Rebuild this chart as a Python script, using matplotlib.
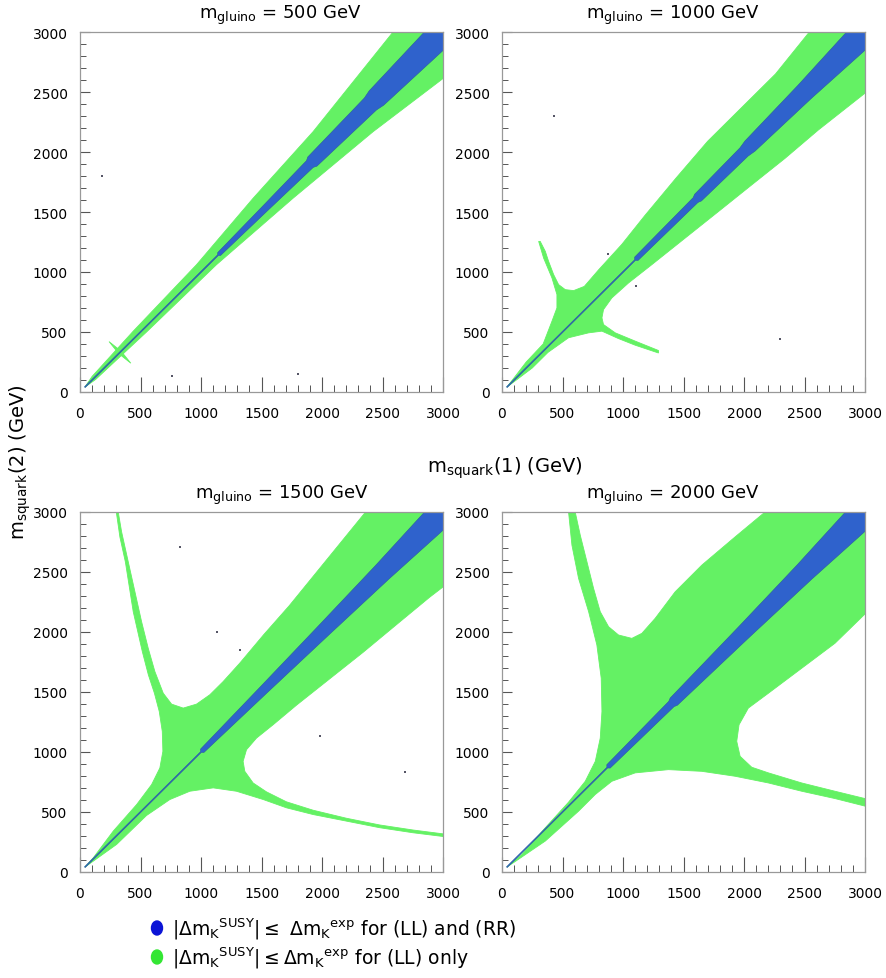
import matplotlib
matplotlib.use("Agg")
import matplotlib.pyplot as plt
from matplotlib.patches import Ellipse, Polygon
from matplotlib.ticker import MultipleLocator
import numpy as np

plt.rcParams['font.family'] = ['DejaVu Sans']
plt.rcParams['mathtext.fontset'] = 'dejavusans'

# ---------------- data ----------------
gluino_masses = [500, 1000, 1500, 2000]
ticks = [0, 500, 1000, 1500, 2000, 2500, 3000]
tick_labels = ["0", "500", "1000", "1500", "2000", "2500", "3000"]

# green region (LL only) boundary, m_squark(1) vs m_squark(2) in GeV
green_500_x = [40, 130, 550, 1128, 1761, 2422, 3000, 3000, 2587, 1926, 1431, 963, 440, 100]
green_500_y = [40, 105, 500, 1061, 1615, 2169, 2612, 3000, 3000, 2169, 1615, 1061, 507, 130]
star_500_x = [240, 320, 420, 340]
star_500_y = [420, 320, 240, 340]

green_1000_x = [40, 250, 380, 550, 716, 826, 963, 1101, 1293, 1293, 1101, 936, 839, 826, 839,
                908, 1046, 1238, 1514, 1789, 2064, 2339, 2614, 3000, 3000, 2540, 2260, 1970,
                1700, 1440, 1180, 990, 800, 680, 592, 523, 468, 427, 385, 358, 316, 303, 344,
                413, 454, 454, 413, 340, 200]
green_1000_y = [40, 200, 330, 452, 493, 507, 445, 390, 325, 346, 424, 493, 562, 618, 687,
                784, 909, 1061, 1283, 1504, 1726, 1947, 2183, 2490, 3000, 3000, 2650, 2360,
                2090, 1785, 1470, 1230, 1020, 880, 845, 853, 895, 978, 1089, 1172, 1255, 1255,
                1116, 950, 812, 701, 590, 400, 250]

green_1500_x = [40, 303, 550, 743, 908, 1101, 1293, 1514, 1706, 1926, 2202, 2477, 2752, 3000,
                3000, 2752, 2477, 2202, 1926, 1706, 1541, 1431, 1362, 1348, 1376, 1459, 1596,
                1789, 2064, 2339, 2614, 2890, 3000, 3000, 2360, 2150, 1940, 1730, 1520, 1320,
                1183, 1073, 963, 853, 757, 688, 619, 564, 509, 454, 399, 344, 316, 300, 330,
                375, 440, 515, 565, 615, 655, 680, 685, 660, 592, 468, 275, 110]
green_1500_y = [40, 230, 471, 604, 673, 701, 673, 604, 535, 479, 424, 369, 327, 296,
                318, 350, 392, 448, 515, 585, 668, 742, 839, 922, 1019, 1116, 1227,
                1390, 1610, 1830, 2060, 2290, 2375, 3000, 3000, 2740, 2480, 2220, 1980, 1740,
                1587, 1477, 1399, 1366, 1399, 1490, 1670, 1864, 2086, 2335, 2584, 2834, 3000, 3000, 2790,
                2584, 2169, 1837, 1643, 1490, 1338, 1172, 1006, 867, 729, 562, 341, 119]

green_2000_x = [40, 358, 633, 771, 908, 1101, 1376, 1651, 1926, 2202, 2477, 2752, 3000,
                3000, 2752, 2477, 2202, 2064, 1968, 1940, 1959, 2036, 2202, 2477, 2752, 3000,
                3000, 2174, 1926, 1651, 1431, 1266, 1156, 1073, 963, 881, 812, 757, 702, 647,
                605, 550, 578, 633, 716, 784, 820, 826, 812, 771, 688, 550, 358, 165]
green_2000_y = [40, 258, 507, 646, 756, 826, 853, 839, 798, 742, 673, 612, 549,
                612, 673, 742, 826, 873, 964, 1089, 1227, 1366, 1490, 1698, 1906, 2150,
                3000, 3000, 2792, 2557, 2335, 2114, 1989, 1947, 1975, 2044, 2169, 2363, 2585, 2806,
                3000, 3000, 2723, 2446, 2169, 1892, 1615, 1338, 1116, 922, 756, 582, 369, 147]

# blue region (LL and RR): position along the diagonal and half width (GeV)
blue_500_t = [40, 1140, 1150, 1550, 1900, 1920, 2400, 2450, 3000, 3100]
blue_500_w = [3, 3, 12, 20, 28, 38, 50, 60, 80, 80]
blue_1000_t = [40, 1100, 1110, 1600, 1620, 2000, 2050, 2500, 3000, 3100]
blue_1000_w = [3, 3, 14, 20, 28, 34, 42, 55, 80, 80]
blue_1500_t = [40, 1000, 1010, 1500, 2000, 2500, 3000, 3100]
blue_1500_w = [3, 3, 14, 26, 40, 56, 80, 80]
blue_2000_t = [40, 870, 880, 1400, 1420, 2000, 2500, 3000, 3100]
blue_2000_w = [3, 3, 14, 22, 30, 44, 60, 85, 85]

# stray isolated points visible in the reference
stray_500_x = [185, 1800, 760]
stray_500_y = [1800, 150, 130]
stray_1000_x = [880, 2300, 430, 1110]
stray_1000_y = [1150, 440, 2300, 880]
stray_1500_x = [830, 1130, 1980, 2690, 1320]
stray_1500_y = [2710, 2000, 1130, 830, 1850]
stray_2000_x = []
stray_2000_y = []

legend_labels = [
    r"$|\Delta\mathrm{m_K}^{\mathrm{SUSY}}| \leq\ \Delta\mathrm{m_K}^{\mathrm{exp}}$ for (LL) and (RR)",
    r"$|\Delta\mathrm{m_K}^{\mathrm{SUSY}}| \leq \Delta\mathrm{m_K}^{\mathrm{exp}}$ for (LL) only",
]

GREEN = "#64f164"
BLUE = "#2f62cc"
LINE_BLUE = "#2a5f9a"
LEG_BLUE = "#0b14d6"
LEG_GREEN = "#33e633"

panels = [
    (green_500_x, green_500_y, blue_500_t, blue_500_w, stray_500_x, stray_500_y),
    (green_1000_x, green_1000_y, blue_1000_t, blue_1000_w, stray_1000_x, stray_1000_y),
    (green_1500_x, green_1500_y, blue_1500_t, blue_1500_w, stray_1500_x, stray_1500_y),
    (green_2000_x, green_2000_y, blue_2000_t, blue_2000_w, stray_2000_x, stray_2000_y),
]

# ---------------- layout ----------------
W, H = 886, 979
fig = plt.figure(figsize=(W / 100, H / 100), dpi=100)
fig.patch.set_facecolor("white")

lefts = [80, 502, 80, 502]
tops = [33, 33, 513, 513]
title_cx = [280, 673, 282, 673]
title_cy = [15, 15, 495, 495]
pw, ph = 363, 360

for i, (gx, gy, bt, bw, sx, sy) in enumerate(panels):
    ax = fig.add_axes([lefts[i] / W, 1 - (tops[i] + ph) / H, pw / W, ph / H])
    ax.set_xlim(0, 3000)
    ax.set_ylim(0, 3000)
    ax.add_patch(Polygon(np.column_stack([gx, gy]), closed=True,
                         facecolor=GREEN, edgecolor=GREEN, lw=0.6))
    if i == 0:
        ax.add_patch(Polygon(np.column_stack([star_500_x, star_500_y]), closed=True,
                             facecolor=GREEN, edgecolor=GREEN, lw=0.6))
    bt = np.asarray(bt, float)
    bw = np.asarray(bw, float)
    ux, uy = bt - bw, bt + bw
    lx, ly = bt + bw, bt - bw
    bx = np.concatenate([ux, lx[::-1]])
    by = np.concatenate([uy, ly[::-1]])
    ax.add_patch(Polygon(np.column_stack([bx, by]), closed=True,
                         facecolor=BLUE, edgecolor=LINE_BLUE, lw=0.4))
    if len(sx):
        ax.plot(sx, sy, ls="none", marker="s", ms=1.6, color="#555566", mew=0)

    ax.set_xticks(ticks)
    ax.set_xticklabels(tick_labels)
    ax.set_yticks(ticks)
    ax.set_yticklabels(tick_labels)
    ax.xaxis.set_minor_locator(MultipleLocator(100))
    ax.yaxis.set_minor_locator(MultipleLocator(100))
    ax.tick_params(axis="x", which="major", direction="in", length=11, width=0.8,
                   color="#555555", pad=10, labelsize=10)
    ax.tick_params(axis="x", which="minor", direction="in", length=5, width=0.7,
                   color="#555555")
    ax.tick_params(axis="y", which="major", direction="in", length=7, width=0.8,
                   color="#555555", pad=9, labelsize=10)
    ax.tick_params(axis="y", which="minor", direction="in", length=4, width=0.7,
                   color="#555555")
    for s in ax.spines.values():
        s.set_color("#999999")
        s.set_linewidth(0.9)

    fig.text(title_cx[i] / W, 1 - title_cy[i] / H,
             r"$\mathrm{m_{gluino}}$ = %d GeV" % gluino_masses[i],
             ha="center", va="center", fontsize=13)

fig.text(20 / W, 1 - 462 / H, r"$\mathrm{m_{squark}}$(2) (GeV)", rotation=90,
         ha="center", va="center", fontsize=14)
fig.text(505 / W, 1 - 468 / H, r"$\mathrm{m_{squark}}$(1) (GeV)",
         ha="center", va="center", fontsize=14)

# legend
leg_y = [929, 958]
leg_cols = [LEG_BLUE, LEG_GREEN]
for yy, col, lab in zip(leg_y, leg_cols, legend_labels):
    fig.patches.append(Ellipse((157 / W, 1 - yy / H), 11 / W, 14 / H,
                               transform=fig.transFigure, facecolor=col,
                               edgecolor=col, figure=fig))
    fig.text(172 / W, 1 - yy / H, lab, ha="left", va="center", fontsize=13.5)

fig.savefig("out.png", dpi=100)
